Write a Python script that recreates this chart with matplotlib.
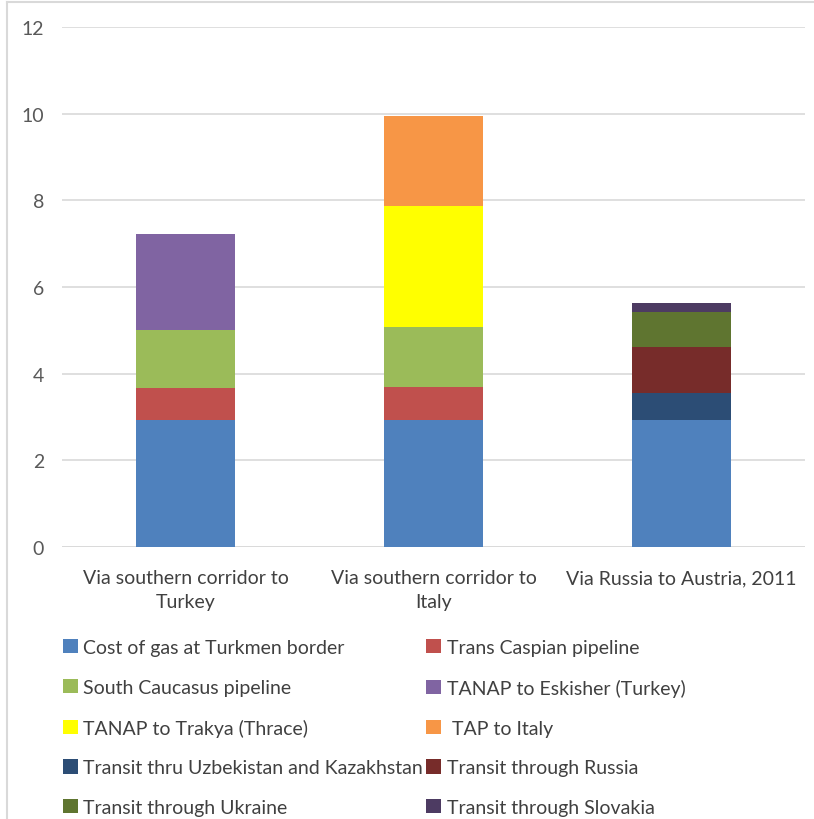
import matplotlib
matplotlib.use("Agg")
import matplotlib.pyplot as plt
from matplotlib.patches import Patch
from matplotlib.lines import Line2D
import numpy as np

plt.rcParams['font.family'] = ['Lato', 'DejaVu Sans']

categories = ["Via southern corridor to\nTurkey", "Via southern corridor to\nItaly", "Via Russia to Austria, 2011"]

series_names = [
    "Cost of gas at Turkmen border",
    "Trans Caspian pipeline",
    "South Caucasus pipeline",
    "TANAP to Eskisher (Turkey)",
    "TANAP to Trakya (Thrace)",
    " TAP to Italy",
    "Transit thru Uzbekistan and Kazakhstan",
    "Transit through Russia",
    "Transit through Ukraine",
    "Transit through Slovakia",
]
cost_turkmen     = [2.92, 2.92, 2.92]
trans_caspian    = [0.75, 0.77, 0.0]
south_caucasus   = [1.34, 1.38, 0.0]
tanap_eskisher   = [2.22, 0.0, 0.0]
tanap_trakya     = [0.0, 2.79, 0.0]
tap_italy        = [0.0, 2.09, 0.0]
transit_uzbek    = [0.0, 0.0, 0.63]
transit_russia   = [0.0, 0.0, 1.06]
transit_ukraine  = [0.0, 0.0, 0.81]
transit_slovakia = [0.0, 0.0, 0.21]

series_values = [cost_turkmen, trans_caspian, south_caucasus, tanap_eskisher,
                 tanap_trakya, tap_italy, transit_uzbek, transit_russia,
                 transit_ukraine, transit_slovakia]
colors = ["#4F81BD", "#C0504D", "#9BBB59", "#8064A2", "#FFFF00", "#F79646",
          "#2C4D75", "#772C2A", "#5F7530", "#4D3B62"]
yticks = [0, 2, 4, 6, 8, 10, 12]

fig = plt.figure(figsize=(8.14, 8.2), dpi=100)
ax = fig.add_axes([62/814, 1-548/820, (805-62)/814, (548-28)/820])

x = np.arange(len(categories))
bottom = np.zeros(len(categories))
for vals, c in zip(series_values, colors):
    v = np.array(vals)
    ax.bar(x, v, bottom=bottom, width=0.4, color=c, edgecolor='none', zorder=3)
    bottom += v

ax.set_xlim(-0.5, 2.5)
ax.set_ylim(0, 12)
ax.set_yticks(yticks)
ax.set_yticklabels([str(t) for t in yticks], color="#595959", fontsize=14)
ax.set_xticks(x)
ax.set_xticklabels(categories, color="#404040", fontsize=14, linespacing=1.45)
ax.tick_params(axis='both', length=0)
ax.tick_params(axis='y', pad=13)
ax.tick_params(axis='x', pad=16)
ax.grid(axis='y', color="#D9D9D9", linewidth=1.2, zorder=0)
for s in ax.spines.values():
    s.set_visible(False)
ax.axhline(0, color="#D9D9D9", linewidth=1.2, zorder=2)

# legend: row-wise layout in 2 columns
order = [0, 2, 4, 6, 8, 1, 3, 5, 7, 9]
handles = [Patch(facecolor=colors[i], edgecolor='none') for i in order]
labels = [series_names[i] for i in order]
fig.legend(handles, labels, ncol=2, loc='upper left',
           bbox_to_anchor=(63/814, 1-640/820), frameon=False,
           fontsize=14, labelcolor="#404040", handlelength=0.75, handleheight=0.75,
           handletextpad=0.3, columnspacing=0.15, labelspacing=1.17,
           borderaxespad=0, borderpad=0)

# outer chart frame (left and top edges visible)
fig.add_artist(Line2D([6.5/814, 6.5/814], [0, 1-2.5/820], transform=fig.transFigure,
                      color="#D9D9D9", linewidth=1.5))
fig.add_artist(Line2D([6.5/814, 1], [1-2.5/820, 1-2.5/820], transform=fig.transFigure,
                      color="#D9D9D9", linewidth=1.5))

fig.savefig("out.png", dpi=100)
